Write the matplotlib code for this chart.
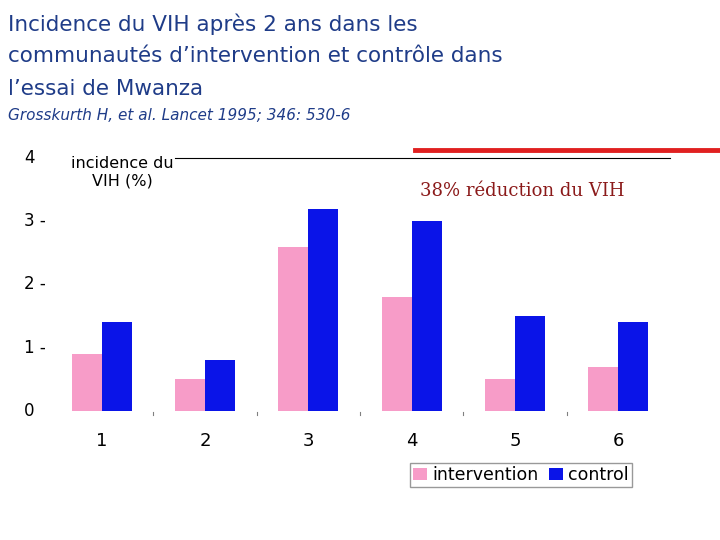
import matplotlib
matplotlib.use("Agg")
import matplotlib.pyplot as plt
import numpy as np

groups = ["1", "2", "3", "4", "5", "6"]
intervention = [0.9, 0.5, 2.6, 1.8, 0.5, 0.7]
control = [1.4, 0.8, 3.2, 3.0, 1.5, 1.4]

W, H = 720, 540
fig = plt.figure(figsize=(7.2, 5.4), dpi=100)
fig.patch.set_facecolor("white")

title_col = "#1F3C88"
title_lines = ["Incidence du VIH après 2 ans dans les",
               "communautés d’intervention et contrôle dans",
               "l’essai de Mwanza"]
for i, line in enumerate(title_lines):
    fig.text(8 / W, 1 - (24 + 32.5 * i) / H, line, fontsize=15.5, color=title_col,
             va="center", ha="left")
fig.text(8 / W, 1 - 116 / H, "Grosskurth H, et al. Lancet 1995; 346: 530-6",
         fontsize=11, color=title_col, style="italic", va="center")

# decorative rules
fig.add_artist(plt.Line2D([415 / W, 1.0], [1 - 150 / H] * 2, color="#E02020", lw=3.5))
fig.add_artist(plt.Line2D([175 / W, 670 / W], [1 - 158 / H] * 2, color="black", lw=0.8))

ax = fig.add_axes([50 / W, 1 - 411 / H, 620 / W, 253 / H])
x = np.arange(1, len(groups) + 1)
ax.bar(x - 0.145, intervention, width=0.29, color="#F79CC8", label="intervention")
ax.bar(x + 0.145, control, width=0.29, color="#0A14E8", label="control")
ax.set_xlim(0.5, 6.5)
ax.set_ylim(0, 4)
for s in ax.spines.values():
    s.set_visible(False)
ax.set_xticks([])
ax.set_yticks([])
for b in np.arange(1.5, 6.5, 1):
    ax.plot([b, b], [-0.02, -0.07], color="gray", lw=0.8, clip_on=False)
for xi, g in zip(x, groups):
    ax.text(xi, -0.47, g, ha="center", va="center", fontsize=13)
ylab = {4: "4", 3: "3 -", 2: "2 -", 1: "1 -", 0: "0"}
for v, t in ylab.items():
    ax.text(0.25, v, t, ha="left", va="center", fontsize=12, transform=ax.transData)

fig.text(122 / W, 1 - 172 / H, "incidence du\nVIH (%)", ha="center", va="center", fontsize=11.5)
fig.text(522 / W, 1 - 191 / H, "38% réduction du VIH", ha="center", va="center",
         fontsize=13, color="#8B1A1A", family="DejaVu Serif")

fig.legend(loc="center", bbox_to_anchor=(521 / W, 1 - 475 / H), ncol=2, fontsize=12.5,
           frameon=True, fancybox=False, edgecolor="gray", handlelength=0.8,
           handletextpad=0.3, columnspacing=0.6, borderpad=0.2)

fig.savefig("out.png", dpi=100)
